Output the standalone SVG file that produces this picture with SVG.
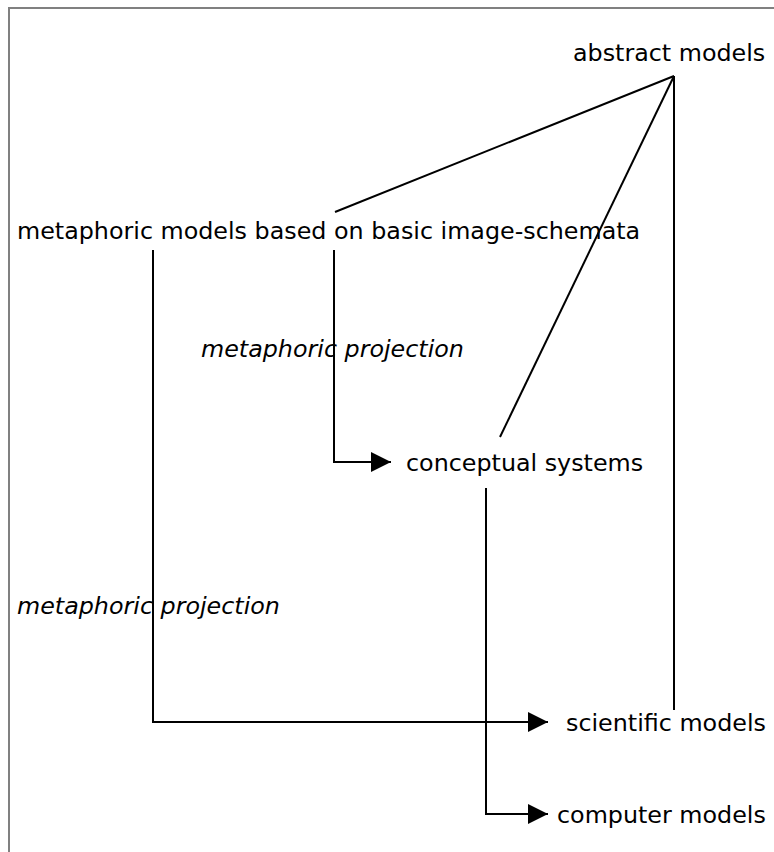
<svg xmlns="http://www.w3.org/2000/svg" width="774" height="852" viewBox="0 0 774 852">
  <defs>
    <marker id="arrow" markerWidth="20" markerHeight="20" refX="20" refY="10" orient="auto" markerUnits="userSpaceOnUse">
      <path d="M0,0 L20,10 L0,20 Z" fill="#000"/>
    </marker>
  </defs>
  <style>
    .label { font-family: "DejaVu Sans", Verdana, sans-serif; font-size: 23.8px; fill: #000; }
    .em { font-style: italic; }
    .edge { fill: none; stroke: #000; stroke-width: 2; }
    .frame { fill: none; stroke: #808080; stroke-width: 2; }
  </style>
  <rect width="774" height="852" fill="#fff"/>
  <path class="frame" d="M9,852 V8 H774"/>

  <g id="abstract-models"><text class="label" x="573" y="61">abstract models</text></g>
  <g id="metaphoric-models"><text class="label" x="17" y="239">metaphoric models based on basic image-schemata</text></g>
  <g id="conceptual-systems"><text class="label" x="406" y="471">conceptual systems</text></g>
  <g id="scientific-models"><text class="label" x="566" y="731">scientific models</text></g>
  <g id="computer-models"><text class="label" x="557" y="823">computer models</text></g>
  <g id="projection-1"><text class="label em" x="201" y="357">metaphoric projection</text></g>
  <g id="projection-2"><text class="label em" x="17" y="614">metaphoric projection</text></g>

  <g id="connectors">
    <line class="edge" x1="674" y1="76" x2="335" y2="212"/>
    <line class="edge" x1="674" y1="76" x2="500" y2="437"/>
    <line class="edge" x1="674" y1="76" x2="674" y2="710"/>
    <path class="edge" d="M334,250 V462 H391" marker-end="url(#arrow)"/>
    <path class="edge" d="M153,250 V722 H548" marker-end="url(#arrow)"/>
    <path class="edge" d="M486,488 V814 H548" marker-end="url(#arrow)"/>
  </g>
</svg>
